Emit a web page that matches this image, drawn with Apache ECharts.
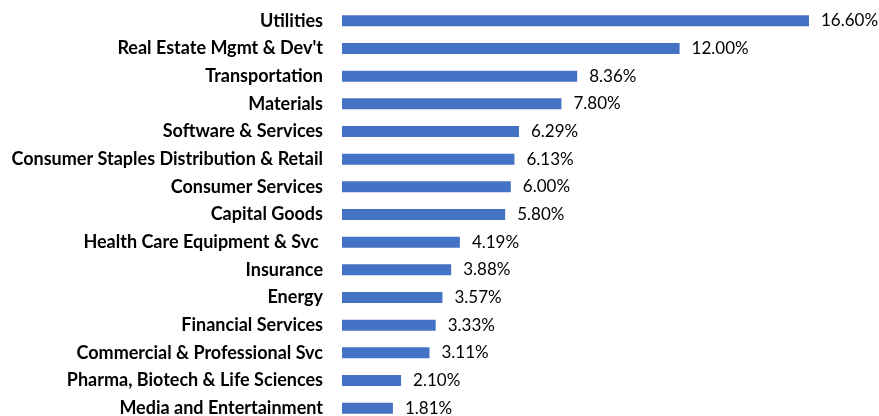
<!DOCTYPE html>
<html>
<head>
<meta charset="utf-8">
<script src="https://cdn.jsdelivr.net/npm/echarts@6/dist/echarts.min.js"></script>
<style>
  html, body { margin: 0; padding: 0; background: #fff; }
  #chart { width: 879px; height: 416px; }
</style>
</head>
<body>
<div id="chart"></div>
<script>
// categories, top to bottom
const categories = [
  "Utilities",
  "Real Estate Mgmt & Dev't",
  "Transportation",
  "Materials",
  "Software & Services",
  "Consumer Staples Distribution & Retail",
  "Consumer Services",
  "Capital Goods",
  "Health Care Equipment & Svc ",
  "Insurance",
  "Energy",
  "Financial Services",
  "Commercial & Professional Svc",
  "Pharma, Biotech & Life Sciences",
  "Media and Entertainment"
];
const values = [16.6, 12.0, 8.36, 7.8, 6.29, 6.13, 6.0, 5.8, 4.19, 3.88, 3.57, 3.33, 3.11, 2.1, 1.81];

const chart = echarts.init(document.getElementById("chart"));
chart.setOption({
  animation: false,
  grid: { left: 342, top: 7, width: 467, height: 415, outerBoundsMode: "none" },
  xAxis: {
    type: "value",
    min: 0,
    max: 16.6,
    show: false
  },
  yAxis: {
    type: "category",
    inverse: true,
    data: categories,
    axisLine: { show: false },
    axisTick: { show: false },
    axisLabel: {
      margin: 19,
      color: "#000",
      fontFamily: "Lato",
      fontWeight: "bold",
      fontSize: 18
    }
  },
  series: [{
    type: "bar",
    data: values,
    barWidth: 11,
    itemStyle: { color: "#4472C4" },
    label: {
      show: true,
      position: "right",
      distance: 12,
      color: "#000",
      fontFamily: "Lato",
      fontSize: 17,
      formatter: (p) => p.value.toFixed(2) + "%"
    }
  }]
});
</script>
</body>
</html>
